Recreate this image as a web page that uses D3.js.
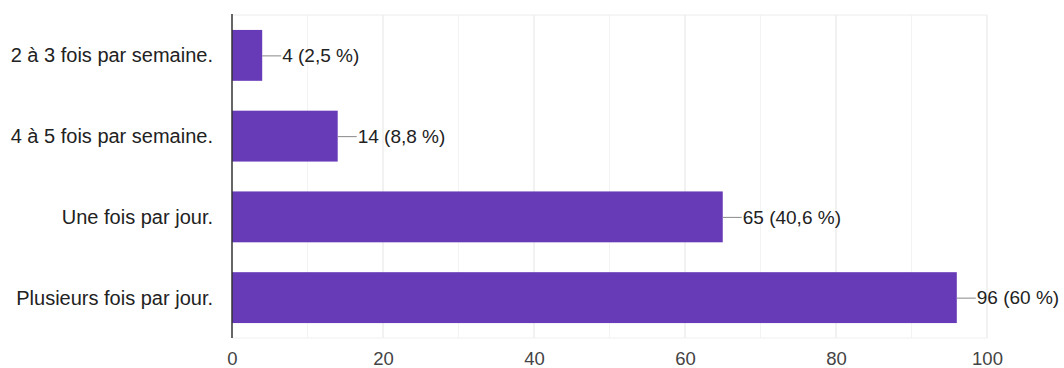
<!DOCTYPE html>
<html>
<head>
<meta charset="utf-8">
<script src="https://cdn.jsdelivr.net/npm/d3@7"></script>
<style>
  body { margin: 0; background: #fff; }
  svg { display: block; font-family: "Liberation Sans", Arial, sans-serif; }
</style>
</head>
<body>
<div id="chart"></div>
<script>
const categories = [
  "2 à 3 fois par semaine.",
  "4 à 5 fois par semaine.",
  "Une fois par jour.",
  "Plusieurs fois par jour."
];
const counts = [4, 14, 65, 96];
const valueLabels = ["4 (2,5 %)", "14 (8,8 %)", "65 (40,6 %)", "96 (60 %)"];
const xTicks = [0, 20, 40, 60, 80, 100];
const xMinorTicks = [10, 30, 50, 70, 90];

const width = 1064;
const height = 368;
const margin = { top: 15, right: 77, bottom: 30, left: 232 };

const svg = d3.select("#chart")
  .append("svg")
  .attr("width", width)
  .attr("height", height);

const x = d3.scaleLinear()
  .domain([0, 100])
  .range([margin.left, width - margin.right]);

const y = d3.scaleBand()
  .domain(categories)
  .range([margin.top, height - margin.bottom])
  .paddingInner(0.37)
  .paddingOuter(0.185);

// grid
svg.append("g")
  .selectAll("line")
  .data(xMinorTicks)
  .join("line")
  .attr("x1", (d) => x(d))
  .attr("x2", (d) => x(d))
  .attr("y1", margin.top)
  .attr("y2", height - margin.bottom)
  .attr("stroke", "#f3f3f3")
  .attr("stroke-width", 1);

svg.append("g")
  .selectAll("line")
  .data(xTicks.slice(1))
  .join("line")
  .attr("x1", (d) => x(d))
  .attr("x2", (d) => x(d))
  .attr("y1", margin.top)
  .attr("y2", height - margin.bottom)
  .attr("stroke", "#e4e4e4")
  .attr("stroke-width", 1);

svg.append("line")
  .attr("x1", margin.left)
  .attr("x2", x(100))
  .attr("y1", margin.top)
  .attr("y2", margin.top)
  .attr("stroke", "#ececec");

svg.append("line")
  .attr("x1", margin.left)
  .attr("x2", x(100))
  .attr("y1", height - margin.bottom)
  .attr("y2", height - margin.bottom)
  .attr("stroke", "#f0f0f0");

// bars
svg.append("g")
  .selectAll("rect")
  .data(categories)
  .join("rect")
  .attr("x", x(0))
  .attr("y", (d) => y(d))
  .attr("width", (d, i) => x(counts[i]) - x(0))
  .attr("height", y.bandwidth())
  .attr("fill", "#673ab7");

// leader lines + value labels
const labels = svg.append("g");
categories.forEach((c, i) => {
  const cy = y(c) + y.bandwidth() / 2;
  const x0 = x(counts[i]);
  labels.append("line")
    .attr("x1", x0)
    .attr("x2", x0 + 19)
    .attr("y1", cy + 0.5)
    .attr("y2", cy + 0.5)
    .attr("stroke", "#888")
    .attr("stroke-width", 1);
  labels.append("text")
    .attr("x", x0 + 20)
    .attr("y", cy)
    .attr("dy", "0.35em")
    .attr("font-size", 19)
    .attr("fill", "#222")
    .text(valueLabels[i]);
});

// category labels
svg.append("g")
  .selectAll("text")
  .data(categories)
  .join("text")
  .attr("x", margin.left - 19)
  .attr("y", (d) => y(d) + y.bandwidth() / 2)
  .attr("dy", "0.35em")
  .attr("text-anchor", "end")
  .attr("font-size", 20)
  .attr("fill", "#222")
  .text((d) => d);

// x axis labels
const xAxis = svg.append("g")
  .attr("transform", `translate(0,${height - margin.bottom})`)
  .call(d3.axisBottom(x).tickValues(xTicks).tickSize(0).tickPadding(14));
xAxis.select(".domain").remove();
xAxis.selectAll("text")
  .attr("font-size", 18.5)
  .attr("font-family", "Liberation Sans, Arial, sans-serif")
  .attr("fill", "#444");

// baseline
svg.append("line")
  .attr("x1", x(0))
  .attr("x2", x(0))
  .attr("y1", margin.top - 1)
  .attr("y2", height - margin.bottom)
  .attr("stroke", "#333")
  .attr("stroke-width", 1.5);
</script>
</body>
</html>
